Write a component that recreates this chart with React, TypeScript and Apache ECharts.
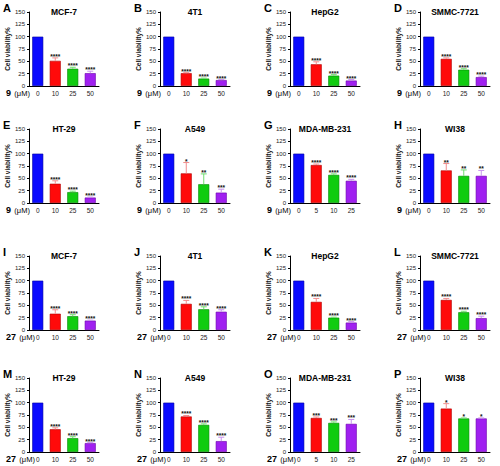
import React, { useEffect, useRef } from "react";
import * as echarts from "echarts";

const panelLetters = ["A", "B", "C", "D", "E", "F", "G", "H", "I", "J", "K", "L", "M", "N", "O", "P"];
const cellLines = ["MCF-7", "4T1", "HepG2", "SMMC-7721", "HT-29", "A549", "MDA-MB-231", "WI38"];
const compoundLabels = ["9", "27"];
const dosesStandard = ["0", "10", "25", "50"];
const dosesMDA = ["0", "5", "10", "25"];
const yTicks = { min: 0, max: 150, interval: 25 };

const viability9 = [
  [100, 51, 35, 26],
  [100, 26, 15, 12],
  [100, 44, 21, 11],
  [100, 55, 33, 18],
  [100, 39, 22, 11],
  [100, 60, 38, 21],
  [100, 77, 57, 45],
  [100, 66, 55, 55],
];
const error9 = [
  [0, 6, 3, 4],
  [0, 1, 1, 1],
  [0, 5, 2, 2],
  [0, 2, 2, 2],
  [0, 6, 2, 1],
  [0, 22, 21, 7],
  [0, 2, 2, 3],
  [0, 14, 12, 11],
];
const stars9 = [
  ["", "****", "****", "****"],
  ["", "****", "****", "****"],
  ["", "****", "****", "****"],
  ["", "****", "****", "****"],
  ["", "****", "****", "****"],
  ["", "*", "**", "***"],
  ["", "****", "****", "****"],
  ["", "**", "**", "**"],
];

const viability27 = [
  [100, 33, 28, 19],
  [100, 53, 42, 37],
  [100, 57, 25, 15],
  [100, 61, 36, 24],
  [100, 46, 28, 18],
  [100, 72, 55, 22],
  [100, 69, 59, 57],
  [100, 88, 68, 68],
];
const error27 = [
  [0, 8, 3, 1],
  [0, 7, 5, 4],
  [0, 7, 1, 2],
  [0, 3, 2, 4],
  [0, 3, 3, 1],
  [0, 2, 2, 8],
  [0, 2, 2, 9],
  [0, 10, 1, 1],
];
const stars27 = [
  ["", "****", "****", "****"],
  ["", "****", "****", "****"],
  ["", "****", "****", "****"],
  ["", "****", "****", "****"],
  ["", "****", "****", "****"],
  ["", "****", "****", "****"],
  ["", "***", "***", "***"],
  ["", "*", "*", "*"],
];

const barColors = ["#0a0aff", "#ff0a0a", "#10cc10", "#a020f0"];
const barBorders = ["#0000a0", "#b00000", "#008800", "#6a00a8"];
const errColors = ["#0000ff", "#f28c8c", "#70dd70", "#c890f0"];

const colX = [29, 160, 290, 420];
const rowTop = [12, 129, 256, 378];
const gridW = 70;
const gridH = 74;
const FONT = "Liberation Sans, Arial, sans-serif";

export default function App() {
  const ref = useRef<HTMLDivElement>(null);
  useEffect(() => {
    if (!ref.current) return;
    const chart = echarts.init(ref.current, undefined, { renderer: "svg" });
    const grids: any[] = [];
    const xAxes: any[] = [];
    const yAxes: any[] = [];
    const series: any[] = [];
    const graphics: any[] = [];

    for (let i = 0; i < 16; i++) {
      const row = Math.floor(i / 4);
      const col = i % 4;
      const comp = row < 2 ? 0 : 1;
      const cell = i % 8;
      const vals = comp === 0 ? viability9[cell] : viability27[cell];
      const errs = comp === 0 ? error9[cell] : error27[cell];
      const stars = comp === 0 ? stars9[cell] : stars27[cell];
      const doses = cell === 6 ? dosesMDA : dosesStandard;
      const left = colX[col];
      const top = rowTop[row];

      grids.push({ left, top, width: gridW, height: gridH });
      xAxes.push({
        type: "category",
        gridIndex: i,
        data: doses,
        axisLine: { lineStyle: { color: "#000", width: 1 } },
        axisTick: { show: false },
        axisLabel: { fontSize: 6.5, margin: 4, color: "#222", fontFamily: FONT },
      });
      yAxes.push({
        type: "value",
        gridIndex: i,
        min: yTicks.min,
        max: yTicks.max,
        interval: yTicks.interval,
        splitLine: { show: false },
        axisLine: { show: true, lineStyle: { color: "#000", width: 1 } },
        axisTick: { show: true, length: 2, lineStyle: { color: "#000" } },
        axisLabel: { fontSize: 6, margin: 4, color: "#222", fontFamily: FONT },
        name: "Cell viability%",
        nameLocation: "middle",
        nameGap: 17,
        nameRotate: 90,
        nameTextStyle: { fontSize: 6.5, fontWeight: "bold", color: "#111", fontFamily: FONT },
      });
      series.push({
        type: "bar",
        xAxisIndex: i,
        yAxisIndex: i,
        barWidth: 11,
        data: vals.map((v, k) => ({
          value: v,
          itemStyle: { color: barColors[k], borderColor: barBorders[k], borderWidth: 0.6 },
        })),
      });
      series.push({
        type: "custom",
        xAxisIndex: i,
        yAxisIndex: i,
        z: 5,
        data: vals.map((v, k) => [k, v, errs[k]]),
        renderItem: (params: any, api: any) => {
          const k = api.value(0);
          const v = api.value(1);
          const e = api.value(2);
          const base = api.coord([k, v]);
          const tp = api.coord([k, v + e]);
          const children: any[] = [];
          if (e > 0) {
            children.push({
              type: "line",
              shape: { x1: base[0], y1: base[1], x2: tp[0], y2: tp[1] },
              style: { stroke: errColors[k], lineWidth: 1 },
            });
            children.push({
              type: "line",
              shape: { x1: tp[0] - 3, y1: tp[1], x2: tp[0] + 3, y2: tp[1] },
              style: { stroke: errColors[k], lineWidth: 1 },
            });
          }
          const s = stars[params.dataIndex];
          if (s) {
            children.push({
              type: "text",
              x: tp[0],
              y: tp[1] + 2,
              style: {
                text: s,
                textAlign: "center",
                textVerticalAlign: "bottom",
                fontSize: 6.5,
                fontWeight: "bold",
                fontFamily: FONT,
                fill: "#111",
              },
            });
          }
          return { type: "group", children };
        },
      });

      graphics.push({
        type: "text",
        left: left - 26,
        top: top - 10,
        style: { text: panelLetters[i], fontSize: 11, fontWeight: "bold", fontFamily: FONT, fill: "#000" },
      });
      graphics.push({
        type: "text",
        x: left + gridW / 2,
        y: top,
        style: {
          text: cellLines[cell],
          textAlign: "center",
          textVerticalAlign: "middle",
          fontSize: 8.5,
          fontWeight: "bold",
          fontFamily: FONT,
          fill: "#000",
        },
      });
      graphics.push({
        type: "text",
        x: left - 23,
        y: top + gridH + 7,
        style: {
          text: "{b|" + compoundLabels[comp] + "} {n|(μM)}",
          textVerticalAlign: "middle",
          rich: {
            b: { fontSize: 9, fontWeight: "bold", fontFamily: FONT, fill: "#000" },
            n: { fontSize: 7.5, fontFamily: FONT, fill: "#000" },
          },
        },
      });
    }

    chart.setOption({
      animation: false,
      backgroundColor: "#fff",
      grid: grids,
      xAxis: xAxes,
      yAxis: yAxes,
      series,
      graphic: graphics,
    });
    return () => chart.dispose();
  }, []);
  return (
    <div
      ref={ref}
      style={{ position: "absolute", left: 0, top: 0, width: 500, height: 466 }}
    />
  );
}
